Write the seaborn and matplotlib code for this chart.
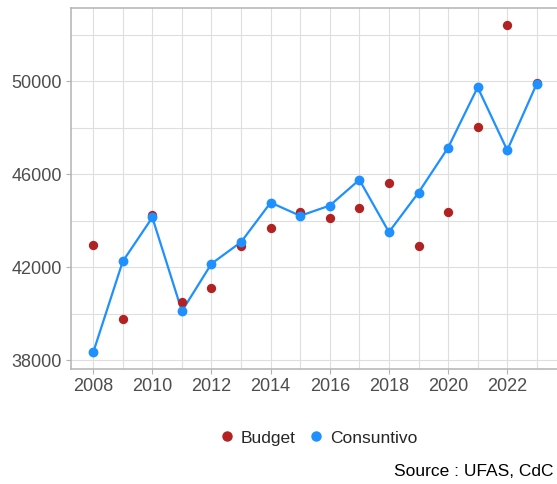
import numpy as np
import pandas as pd
import seaborn as sns
import matplotlib.pyplot as plt
from matplotlib.lines import Line2D

# values
years = [2008, 2009, 2010, 2011, 2012, 2013, 2014, 2015,
         2016, 2017, 2018, 2019, 2020, 2021, 2022, 2023]
budget = [42960, 39750, 44250, 40500, 41100, 42930, 43690, 44380,
          44110, 44560, 45630, 42930, 44360, 48030, 52440, 49940]
consuntivo = [38330, 42250, 44140, 40110, 42150, 43080, 44780, 44210,
              44650, 45760, 43510, 45210, 47140, 49740, 47030, 49900]
x_major = [2008, 2010, 2012, 2014, 2016, 2018, 2020, 2022]
x_minor = [2009, 2011, 2013, 2015, 2017, 2019, 2021, 2023]
y_major = [38000, 42000, 46000, 50000]
y_minor = [40000, 44000, 48000, 52000]

budget_color = "#B22222"
cons_color = "#1E90FF"
text_gray = "#4D4D4D"

df = pd.DataFrame({"Year": years, "Budget": budget, "Consuntivo": consuntivo})

sns.set_theme(style="whitegrid")
plt.rcParams['font.family'] = ['Liberation Sans', 'DejaVu Sans']

W, H = 557, 484
fig = plt.figure(figsize=(W / 100, H / 100), dpi=100)
ax = fig.add_axes([71 / W, 1 - 369 / H, 488 / W, 361 / H])

sns.lineplot(data=df, x="Year", y="Consuntivo", ax=ax, color=cons_color,
             linewidth=1.6, zorder=3)
sns.scatterplot(data=df, x="Year", y="Budget", ax=ax, color=budget_color,
                s=45, linewidth=0, zorder=4)
sns.scatterplot(data=df, x="Year", y="Consuntivo", ax=ax, color=cons_color,
                s=50, linewidth=0, zorder=5)

ax.set_xlim(2007.25, 2023.75)
ax.set_ylim(37620, 53150)
ax.set_xticks(x_major)
ax.set_xticks(x_minor, minor=True)
ax.set_yticks(y_major)
ax.set_yticks(y_minor, minor=True)
ax.grid(which="both", color="#DEDEDE", linewidth=0.8)
ax.set_axisbelow(True)
ax.set_xlabel("")
ax.set_ylabel("")

for s in ax.spines.values():
    s.set_color("#B3B3B3")
    s.set_linewidth(1.1)

ax.tick_params(axis="both", which="major", labelsize=13, labelcolor=text_gray,
               color="#B3B3B3", length=3.5, width=0.8, pad=3, left=True, bottom=True)
ax.tick_params(axis="both", which="minor", length=0)

handles = [
    Line2D([], [], marker="o", linestyle="", color=budget_color, markersize=6.5),
    Line2D([], [], marker="o", linestyle="", color=cons_color, markersize=6.5),
]
fig.legend(handles, ["Budget", "Consuntivo"], loc="center",
           bbox_to_anchor=(317 / W, 1 - 438 / H), ncol=2, frameon=False,
           fontsize=12.5, handletextpad=0.2, columnspacing=0.6, handlelength=1.2)

# source note kept fully inside the figure
fig.text(554 / W, 1 - 471 / H, "Source : UFAS, CdC", fontsize=12.5,
         color="black", ha="right", va="center")

fig.savefig("out.png", dpi=100)
